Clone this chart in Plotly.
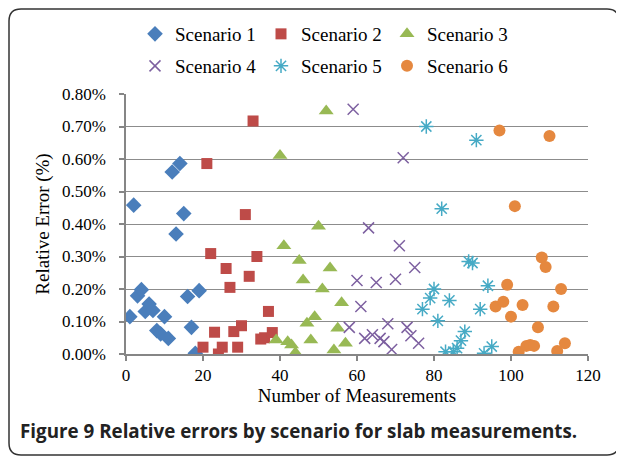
import plotly.graph_objects as go

# ---- data (x = measurement number, y = relative error in %) ----
s1_x = [1, 2, 3, 4, 5, 6, 7, 8, 9, 10, 11, 12, 13, 14, 15, 16, 17, 18, 19]
s1_y = [0.115, 0.458, 0.179, 0.198, 0.131, 0.154, 0.134, 0.072, 0.062, 0.115,
        0.048, 0.560, 0.369, 0.586, 0.432, 0.177, 0.082, 0.002, 0.195]

s2_x = [20, 21, 22, 23, 24, 25, 26, 27, 28, 29, 30, 31, 32, 33, 34, 35, 36, 37, 38]
s2_y = [0.021, 0.586, 0.309, 0.067, 0.000, 0.021, 0.263, 0.205, 0.069, 0.021,
        0.087, 0.429, 0.239, 0.717, 0.300, 0.046, 0.050, 0.131, 0.066]

s3_x = [39, 40, 41, 42, 43, 44, 45, 46, 47, 48, 49, 50, 51, 52, 53, 54, 55, 56, 57]
s3_y = [0.043, 0.611, 0.333, 0.038, 0.028, 0.004, 0.288, 0.228, 0.095, 0.043,
        0.115, 0.393, 0.200, 0.748, 0.265, 0.012, 0.079, 0.158, 0.033]

s4_x = [58, 59, 60, 61, 62, 63, 64, 65, 66, 67, 68, 69, 70, 71, 72, 73, 74, 75, 76]
s4_y = [0.082, 0.753, 0.226, 0.146, 0.048, 0.388, 0.059, 0.220, 0.048, 0.038,
        0.093, 0.014, 0.230, 0.333, 0.604, 0.082, 0.056, 0.266, 0.033]

s5_x = [77, 78, 79, 80, 81, 82, 83, 84, 85, 86, 87, 88, 89, 90, 91, 92, 93, 94, 95]
s5_y = [0.138, 0.700, 0.172, 0.200, 0.102, 0.447, 0.007, 0.165, 0.007, 0.018,
        0.041, 0.069, 0.285, 0.280, 0.658, 0.138, 0.002, 0.210, 0.023]

s6_x = [96, 97, 98, 99, 100, 101, 102, 103, 104, 105, 106, 107, 108, 109, 110, 111, 112, 113, 114]
s6_y = [0.146, 0.688, 0.161, 0.213, 0.115, 0.455, 0.007, 0.151, 0.025, 0.028,
        0.025, 0.082, 0.297, 0.268, 0.671, 0.146, 0.009, 0.200, 0.033]

series_names = ["Scenario 1", "Scenario 2", "Scenario 3",
                "Scenario 4", "Scenario 5", "Scenario 6"]
x_ticks = [0, 20, 40, 60, 80, 100, 120]
y_ticks = [0.0, 0.1, 0.2, 0.3, 0.4, 0.5, 0.6, 0.7, 0.8]
y_tick_labels = ["%.2f%%" % v for v in y_ticks]

# ---- geometry (screen px; the page body adds an 8px offset) ----
OFF = 8
W, H = 624 - OFF, 456 - OFF
SL, SR, ST, SB = 126, 588, 94, 354          # plot area on screen
L, R, T, B = SL - OFF, SR - OFF, ST - OFF, SB - OFF


def px2x(px):
    return (px - SL) / (SR - SL)


def py2y(py):
    return (SB - py) / (SB - ST)


SERIF = "Liberation Serif, Times New Roman, serif"

styles = [
    dict(symbol="diamond", color="#4A7EBB", size=12, line=dict(width=0)),
    dict(symbol="square", color="#BE4B48", size=11, line=dict(width=0)),
    dict(symbol="triangle-up", color="#98B954", size=13, line=dict(width=0)),
    dict(symbol="x-thin-open", color="#7D60A0", size=11, line=dict(width=1.5, color="#7D60A0")),
    dict(symbol="asterisk-open", color="#46AAC5", size=12, line=dict(width=1.5, color="#46AAC5")),
    dict(symbol="circle", color="#E5883F", size=12, line=dict(width=0)),
]

xs = [s1_x, s2_x, s3_x, s4_x, s5_x, s6_x]
ys = [s1_y, s2_y, s3_y, s4_y, s5_y, s6_y]

fig = go.Figure()
for i in range(6):
    fig.add_trace(go.Scatter(
        x=xs[i], y=ys[i], mode="markers", name=series_names[i],
        marker=styles[i],
        legend="legend" if i < 3 else "legend2",
    ))

legend_common = dict(
    orientation="h", xref="paper", yref="paper",
    x=px2x(135), xanchor="left", yanchor="middle",
    font=dict(family=SERIF, size=19, color="black"),
    bgcolor="rgba(0,0,0,0)", borderwidth=0,
    entrywidth=81, entrywidthmode="pixels",
    itemclick=False, itemdoubleclick=False,
    tracegroupgap=0,
)

fig.update_layout(
    width=W, height=H,
    margin=dict(l=L, r=W - R, t=T, b=H - B, pad=0, autoexpand=False),
    paper_bgcolor="white", plot_bgcolor="white",
    showlegend=True,
    legend=dict(legend_common, y=py2y(34)),
    legend2=dict(legend_common, y=py2y(66)),
    xaxis=dict(
        range=[0, 120], tickvals=x_ticks, ticktext=[str(v) for v in x_ticks],
        showgrid=False, zeroline=False, automargin=False,
        showline=True, linecolor="#868686", linewidth=1.5,
        ticks="outside", ticklen=5, tickcolor="#868686", tickwidth=1.5,
        tickfont=dict(family=SERIF, size=17, color="black"),
        ticklabelstandoff=0,
        title=dict(text="Number of Measurements",
                   font=dict(family=SERIF, size=19, color="black"), standoff=0),
    ),
    yaxis=dict(
        range=[0, 0.8], tickvals=y_ticks, ticktext=y_tick_labels,
        showgrid=True, gridcolor="#8C8C8C", gridwidth=1.3,
        zeroline=False, automargin=False,
        showline=True, linecolor="#868686", linewidth=1.5,
        ticks="outside", ticklen=5, tickcolor="#868686", tickwidth=1.5,
        tickfont=dict(family=SERIF, size=17, color="black"),
        ticklabelstandoff=10,
        title=dict(text="Relative Error (%)",
                   font=dict(family=SERIF, size=19, color="black"), standoff=7),
    ),
)

# outer rounded frame (screen coords, clamped to the drawable figure area)
x0, x1, y0, y1, r = OFF + 1, 619, OFF + 1, 455, 12
path = (
    f"M {px2x(x0)},{py2y(y0 + r)} "
    f"Q {px2x(x0)},{py2y(y0)} {px2x(x0 + r)},{py2y(y0)} "
    f"L {px2x(x1 - r)},{py2y(y0)} "
    f"Q {px2x(x1)},{py2y(y0)} {px2x(x1)},{py2y(y0 + r)} "
    f"L {px2x(x1)},{py2y(y1 - r)} "
    f"Q {px2x(x1)},{py2y(y1)} {px2x(x1 - r)},{py2y(y1)} "
    f"L {px2x(x0 + r)},{py2y(y1)} "
    f"Q {px2x(x0)},{py2y(y1)} {px2x(x0)},{py2y(y1 - r)} Z"
)
fig.add_shape(type="path", path=path, xref="paper", yref="paper",
              line=dict(color="#333333", width=1.5), layer="below")

# caption
fig.add_annotation(
    text="<b>Figure 9</b> <b>Relative errors by scenario for slab measurements.</b>",
    xref="paper", yref="paper", x=px2x(18), y=py2y(431),
    xanchor="left", yanchor="middle", showarrow=False,
    font=dict(family="Open Sans, sans-serif", size=18.8, color="#222222"),
)

fig.write_html("out.html")
